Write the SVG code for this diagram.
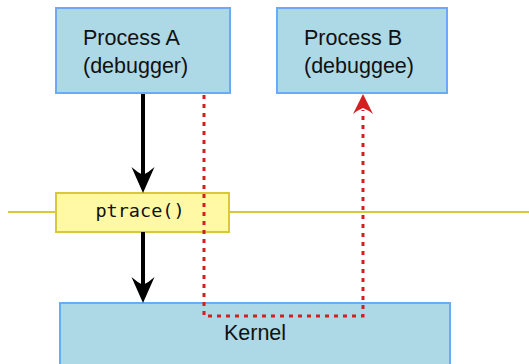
<svg xmlns="http://www.w3.org/2000/svg" width="529" height="364" viewBox="0 0 529 364">
  <defs>
    <style>
      .proc { fill: #add8e6; stroke: #6aabf5; stroke-width: 2; }
      .call { fill: #fff9a6; stroke: #d9c93a; stroke-width: 2; }
      .lbl { font-family: "Liberation Sans", "DejaVu Sans", sans-serif; font-size: 21.5px; fill: #111; }
      .mono { font-family: "DejaVu Sans Mono", "Liberation Mono", monospace; font-size: 18.5px; fill: #111; }
      .flow { stroke: #000; stroke-width: 4; fill: none; }
      .trace { stroke: #d21f1f; stroke-width: 3; fill: none; stroke-dasharray: 4 5; }
      .head-flow { fill: #000; }
      .head-trace { fill: #d21f1f; }
    </style>
  </defs>

  <!-- syscall boundary line -->
  <line x1="8" y1="212" x2="529" y2="212" stroke="#d9c93a" stroke-width="2"/>

  <g id="kernel">
    <rect class="proc" x="60" y="303" width="390" height="70"/>
    <text class="lbl" x="255" y="340" text-anchor="middle">Kernel</text>
  </g>

  <g id="process-a">
    <rect class="proc" x="56" y="8" width="174" height="85"/>
    <text class="lbl" x="83" y="45">Process A</text>
    <text class="lbl" x="83" y="73">(debugger)</text>
  </g>

  <g id="process-b">
    <rect class="proc" x="277" y="8" width="170" height="85"/>
    <text class="lbl" x="304" y="45">Process B</text>
    <text class="lbl" x="304" y="73">(debuggee)</text>
  </g>

  <g id="ptrace">
    <rect class="call" x="56" y="193" width="173" height="39"/>
    <text class="mono" x="140" y="217" text-anchor="middle">ptrace()</text>
  </g>

  <g id="connectors">
    <!-- process A enters the kernel through ptrace() -->
    <line class="flow" x1="143" y1="94" x2="143" y2="176"/>
    <path class="head-flow" d="M143,193 L131.5,167 Q137,172 143,175 Q149,172 154.5,167 Z"/>
    <line class="flow" x1="143" y1="232" x2="143" y2="286"/>
    <path class="head-flow" d="M143,303 L131.5,277 Q137,282 143,285 Q149,282 154.5,277 Z"/>
    <!-- kernel acts on process B -->
    <polyline class="trace" points="204,95 204,316 363,316 363,110"/>
    <path class="head-trace" d="M363,94 L353,114 Q358,110 363,108 Q368,110 373,114 Z"/>
  </g>
</svg>
